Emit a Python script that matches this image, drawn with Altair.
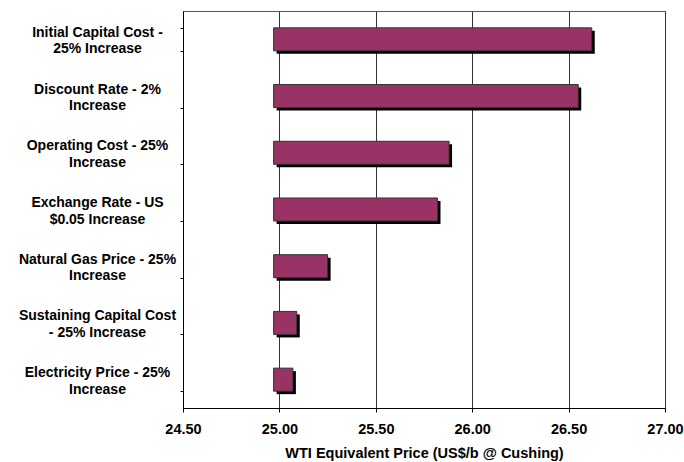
import altair as alt
import pandas as pd

# Sensitivity cases (top to bottom) and the WTI equivalent price each one gives
cases = [
    "Initial Capital Cost -|25% Increase",
    "Discount Rate - 2%|Increase",
    "Operating Cost - 25%|Increase",
    "Exchange Rate - US|$0.05 Increase",
    "Natural Gas Price - 25%|Increase",
    "Sustaining Capital Cost|- 25% Increase",
    "Electricity Price - 25%|Increase",
]
prices = [26.62, 26.55, 25.88, 25.82, 25.25, 25.09, 25.07]
base_price = 24.97  # base case price all bars start from

df = pd.DataFrame({"case": cases, "price": prices, "base": [base_price] * len(cases)})

FONT = "Liberation Sans"
BAR = "#993366"

y_scale = alt.Scale(domain=cases, paddingInner=0.594, paddingOuter=0.297)
x_scale = alt.Scale(domain=[24.5, 27.0], nice=False, zero=False)

x_axis = alt.Axis(
    title="WTI Equivalent Price (US$/b @ Cushing)",
    values=[24.5, 25.0, 25.5, 26.0, 26.5, 27.0],
    format=".2f",
    grid=True,
    gridColor="#333333",
    gridWidth=1,
    domainColor="#000000",
    tickColor="#000000",
    tickSize=4,
    labelFont=FONT,
    labelFontSize=14.5,
    labelFontWeight="bold",
    labelColor="#000000",
    labelPadding=10,
    labelFlush=False,
    titleFont=FONT,
    titleFontSize=14.5,
    titleFontWeight="bold",
    titleColor="#000000",
    titlePadding=11,
)

y_axis = alt.Axis(
    title=None,
    labelExpr="split(datum.label, '|')",
    labelAlign="center",
    labelBaseline="middle",
    labelLineHeight=16.5,
    labelOffset=-7,
    labelFont=FONT,
    labelFontSize=14,
    labelFontWeight="bold",
    labelColor="#000000",
    labelPadding=83,
    labelLimit=0,
    tickBand="extent",
    tickSize=3,
    tickColor="#000000",
    domainColor="#000000",
    grid=False,
)

# Drop shadow behind each bar
shadow = alt.Chart(df).mark_bar(
    color="#000000", xOffset=3, x2Offset=3, yOffset=3, y2Offset=3
).encode(
    y=alt.Y("case:N", scale=y_scale, sort=cases, axis=y_axis),
    x=alt.X("base:Q", scale=x_scale, axis=x_axis),
    x2="price:Q",
)

bars = alt.Chart(df).mark_bar(
    color=BAR, stroke="#333333", strokeWidth=1
).encode(
    y=alt.Y("case:N", scale=y_scale, sort=cases),
    x=alt.X("base:Q", scale=x_scale),
    x2="price:Q",
)

chart = (
    alt.layer(shadow, bars)
    .properties(
        width=482,
        height=397,
        autosize=alt.AutoSizeParams(type="none"),
        padding={"left": 183, "top": 11, "right": 19, "bottom": 54},
        background="#ffffff",
    )
    .configure_view(stroke="#555555", strokeWidth=1)
)

chart.save("out.html", embed_options={"renderer": "svg", "actions": False})
